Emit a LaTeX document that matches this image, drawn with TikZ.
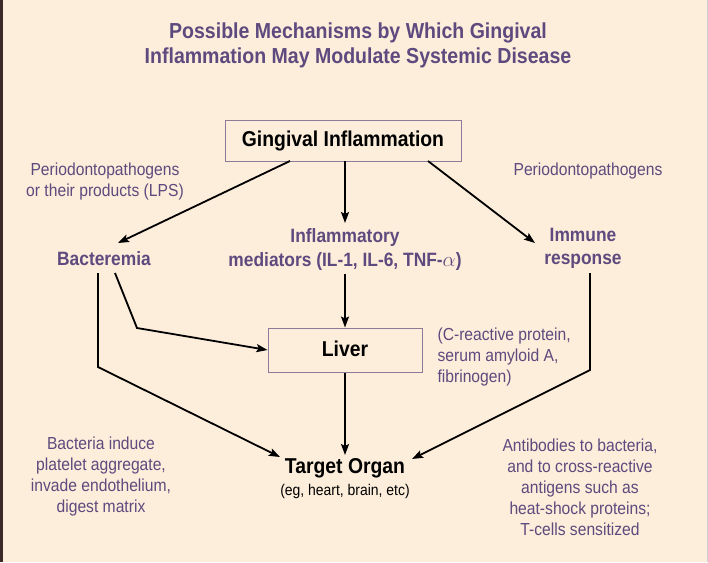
\documentclass[tikz,border=0pt]{standalone}
\usepackage{fontspec}
\setmainfont{Liberation Sans}[FakeStretch=0.9]
\usetikzlibrary{arrows.meta}
\definecolor{bg}{HTML}{FCEEDA}
\definecolor{ptext}{HTML}{5E4A7E}
\definecolor{pbox}{HTML}{8C7C98}
\definecolor{edge}{HTML}{3A2A2A}
\tikzset{
  title/.style={font=\fontsize{21.7}{25}\selectfont\bfseries, text=ptext, align=center},
  boxnode/.style={draw=pbox, line width=1pt, fill=bg, inner sep=0pt},
  blk/.style={font=\fontsize{21.5}{24}\selectfont\bfseries, text=black, align=center},
  plab/.style={font=\fontsize{19.3}{24}\selectfont\bfseries, text=ptext, align=center},
  note/.style={font=\fontsize{17.4}{21}\selectfont, text=ptext, align=center},
  arr/.style={line width=1.8pt, draw=black, -{Stealth[length=11pt,width=8pt,inset=2pt]}},
}
\begin{document}
\begin{tikzpicture}[x=1pt,y=-1pt]
\useasboundingbox (0,0) rectangle (708,562);
\fill[bg] (0,0) rectangle (708,562);
\fill[edge] (0,0) rectangle (2.5,562);
\fill[pbox!40] (706.5,0) rectangle (708,562);

\node[title] (t) at (358,45.5) {Possible Mechanisms by Which Gingival\\Inflammation May Modulate Systemic Disease};

\node[boxnode, minimum width=236pt, minimum height=41pt] (gi) at (343,140.5) {};
\node[blk] (gitext) at (343,140.5) {Gingival Inflammation};

\node[note] (lpp) at (105,181) {Periodontopathogens\\or their products (LPS)};
\node[note] (rpp) at (588,171) {Periodontopathogens};

\node[plab] (bac) at (104,259) {Bacteremia};
\node[plab] (inf) at (345,249.5) {Inflammatory\\mediators (IL-1, IL-6, TNF-$\alpha$)};
\node[plab, font=\fontsize{19.3}{23}\selectfont\bfseries] (imm) at (583,248.5) {Immune\\response};

\node[boxnode, minimum width=154pt, minimum height=44pt] (liv) at (345,350) {};
\node[blk] (livtext) at (345,349) {Liver};
\node[note, align=left, anchor=west] (crp) at (434,357) {(C-reactive protein,\\serum amyloid A,\\fibrinogen)};

\node[blk] (tgt) at (345,468) {Target Organ};
\node[font=\fontsize{15.5}{18}\selectfont] (tgtsub) at (345,491) {(eg, heart, brain, etc)};

\node[note] (lnote) at (101,476.5) {Bacteria induce\\platelet aggregate,\\invade endothelium,\\digest matrix};
\node[note] (rnote) at (580,487) {Antibodies to bacteria,\\and to cross-reactive\\antigens such as\\heat-shock proteins;\\T-cells sensitized};

\coordinate (g1) at (290,161);
\coordinate (g2) at (345,161);
\coordinate (g3) at (428,161);
\coordinate (bacTip) at (118,243);
\coordinate (immTip) at (535,243);
\coordinate (infTip) at (345,223);
\coordinate (b1) at (115,273);
\coordinate (b1k) at (137,328);
\coordinate (b2) at (98,273);
\coordinate (b2k) at (98,367);
\coordinate (tgtL) at (280,457);
\coordinate (i1) at (590,273);
\coordinate (i1k) at (590,370);
\coordinate (tgtR) at (412,459);

\draw[arr] (g1) -- (bacTip);
\draw[arr] (g2) -- (infTip);
\draw[arr] (g3) -- (immTip);
\draw[arr] (inf.south |- 0,274) -- (liv.north);
\draw[arr] (b1) -- (b1k) -- (liv.west);
\draw[arr] (b2) -- (b2k) -- (tgtL);
\draw[arr] (liv.south) -- (345,455);
\draw[arr] (i1) -- (i1k) -- (tgtR);
\end{tikzpicture}
\end{document}
